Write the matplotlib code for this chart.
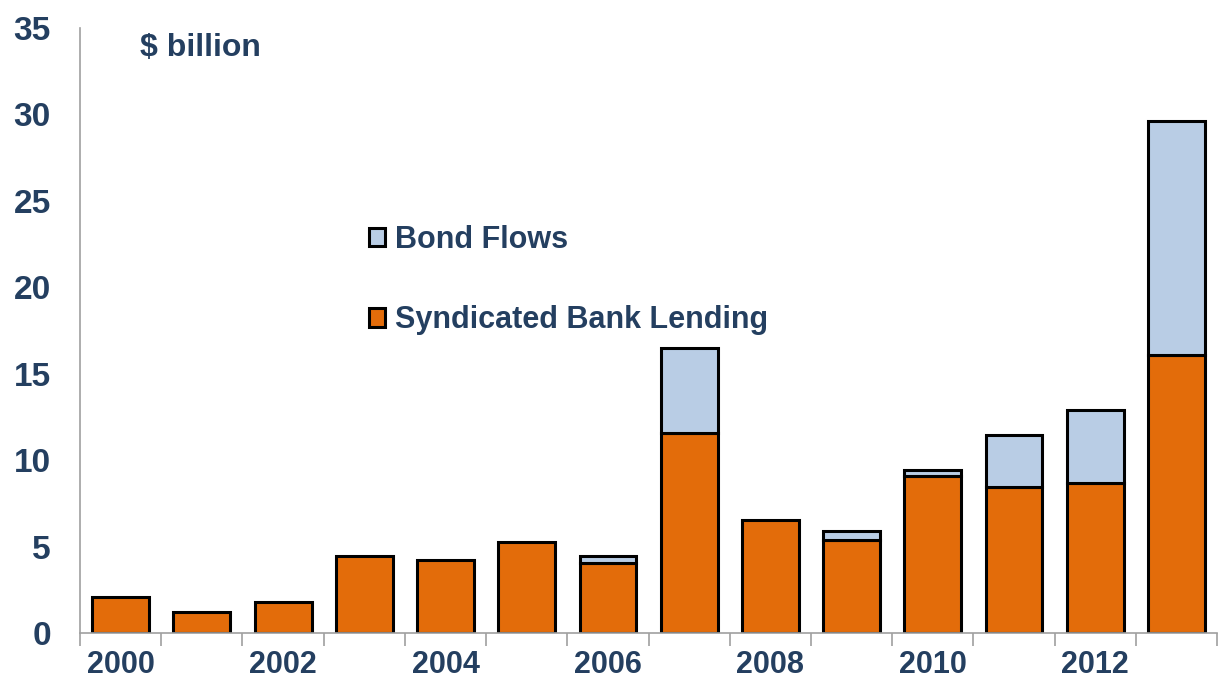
import matplotlib.pyplot as plt
import numpy as np
from matplotlib.ticker import FixedLocator

years = list(range(2000, 2014))
syndicated = [2.1, 1.2, 1.8, 4.45, 4.2, 5.25, 4.05, 11.55, 6.55, 5.4, 9.1, 8.45, 8.7, 16.1]
bonds = [0.0, 0.0, 0.0, 0.0, 0.0, 0.0, 0.4, 4.95, 0.0, 0.5, 0.3, 3.0, 4.2, 13.5]
year_labels = [str(y) if y % 2 == 0 else '' for y in years]

navy = '#243F60'
orange = '#E36C0A'
lightblue = '#B9CDE5'

plt.rcParams['font.family'] = ['Liberation Sans', 'DejaVu Sans']
plt.rcParams['font.weight'] = 'bold'

fig = plt.figure(figsize=(12.2, 6.85), dpi=100)
ax = fig.add_axes([0.0656, 0.076, 0.932, 0.883])

x = np.arange(len(years))
ax.bar(x, syndicated, width=0.7, color=orange, edgecolor='black', linewidth=2.2,
       label='Syndicated Bank Lending', zorder=2)
bond_x = [i for i, b in zip(x, bonds) if b > 0]
bond_v = [b for b in bonds if b > 0]
bond_base = [s for s, b in zip(syndicated, bonds) if b > 0]
ax.bar(bond_x, bond_v, bottom=bond_base, width=0.7, color=lightblue, edgecolor='black',
       linewidth=2.2, label='Bond Flows', zorder=2)

ax.set_xlim(-0.5, len(years) - 0.5)
ax.set_ylim(0, 35)
ax.set_yticks(range(0, 36, 5))
ax.set_xticks(x)
ax.set_xticklabels(year_labels)
ax.xaxis.set_minor_locator(FixedLocator(np.arange(-0.5, len(years), 1.0)))
ax.tick_params(axis='x', which='major', length=0, pad=12, labelsize=22, labelcolor=navy)
ax.tick_params(axis='x', which='minor', length=9, width=1.2, color='#A0A0A0', direction='out')
ax.tick_params(axis='y', length=0, pad=21, labelsize=24, labelcolor=navy)

for s in ['top', 'right']:
    ax.spines[s].set_visible(False)
for s in ['left', 'bottom']:
    ax.spines[s].set_color('#A0A0A0')
    ax.spines[s].set_linewidth(1.2)

ax.text(0.053, 0.967, '$ billion', transform=ax.transAxes, fontsize=23, color=navy,
        fontweight='bold', va='center', ha='left')

handles, labels = ax.get_legend_handles_labels()
leg = ax.legend(handles[::-1], labels[::-1], loc='upper left', bbox_to_anchor=(0.235, 0.71),
                frameon=False, fontsize=22, handlelength=0.55, handleheight=0.55,
                handletextpad=0.3, labelspacing=1.65, borderaxespad=0.3)
for t in leg.get_texts():
    t.set_color(navy)

fig.savefig('out.png', dpi=100)
